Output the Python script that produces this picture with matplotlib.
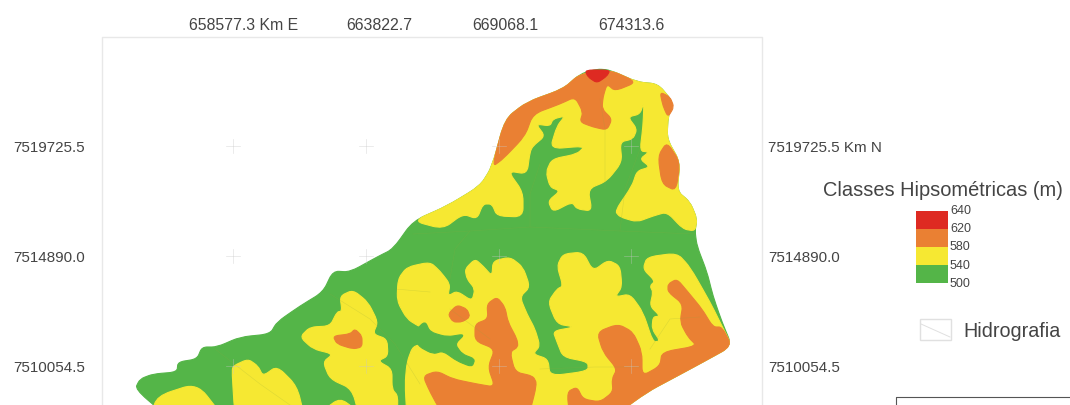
import matplotlib
matplotlib.use('Agg')
import matplotlib.pyplot as plt
from matplotlib.patches import PathPatch, Rectangle
from matplotlib.path import Path

plt.rcParams['font.family'] = ['Liberation Sans', 'DejaVu Sans']

GREEN = '#54b548'
YELLOW = '#f6e832'
ORANGE = '#ea8033'
RED = '#de2a22'

# everything, in image pixels
bacia = [(135, 390), (140, 380), (153, 375), (177, 373), (178, 363), (197, 360), (202, 348), (217, 348),
         (240, 338), (270, 335), (277, 323), (300, 307), (323, 293), (333, 272), (350, 273), (377, 258),
         (393, 250), (413, 222), (447, 207), (480, 187), (492, 168), (505, 120), (527, 103), (563, 90),
         (580, 75), (597, 70), (610, 71), (637, 83), (658, 85), (673, 103), (668, 118), (667, 140),
         (680, 163), (677, 192), (690, 203), (697, 220), (695, 232), (697, 247), (707, 273), (713, 297),
         (722, 323), (732, 347), (703, 363), (677, 377), (647, 393), (610, 420), (170, 420)]

amarelo_norte = [(413, 222), (447, 207), (480, 187), (492, 168), (505, 120), (527, 103), (563, 90), (580, 75),
                 (610, 71), (637, 83), (658, 85), (673, 103), (668, 118), (667, 140), (680, 163), (677, 192),
                 (690, 203), (697, 220), (695, 232), (683, 230), (667, 213), (653, 217), (637, 223), (620, 218),
                 (615, 212), (632, 187), (637, 172), (650, 168), (640, 160), (649, 153), (640, 152), (643, 127),
                 (644, 103), (640, 115), (628, 118), (637, 130), (633, 140), (620, 143), (622, 163), (607, 182),
                 (588, 190), (592, 212), (577, 210), (572, 203), (553, 213), (548, 202), (560, 192), (550, 188),
                 (546, 173), (552, 160), (577, 155), (585, 147), (550, 150), (557, 127), (565, 117), (553, 120),
                 (550, 127), (536, 125), (545, 137), (533, 147), (530, 153), (527, 175), (508, 172), (523, 193),
                 (523, 218), (497, 217), (492, 205), (483, 205), (477, 220), (463, 215), (443, 230)]

amarelo_sul_1 = [(150, 420), (157, 397), (197, 384), (225, 420)]
amarelo_sul_2 = [(232, 373), (233, 367), (248, 360), (258, 367), (263, 377), (277, 367), (297, 387), (305, 420),
                 (235, 420)]
amarelo_sul_3 = [(300, 338), (310, 328), (330, 327), (337, 313), (342, 312), (340, 297), (353, 291), (368, 303),
                 (378, 323), (373, 335), (387, 340), (388, 357), (378, 362), (392, 370), (392, 390), (398, 397),
                 (397, 420), (360, 420), (352, 390), (330, 380), (323, 363), (333, 355), (313, 350)]
amarelo_sul_4 = [(322, 412), (340, 399), (358, 412)]
amarelo_sul_5 = [(472, 302), (475, 290), (467, 280), (465, 270), (475, 260), (483, 267), (492, 277), (493, 262),
                 (510, 258), (523, 268), (530, 288), (520, 298), (527, 315), (535, 330), (540, 347), (533, 355),
                 (548, 360), (550, 377), (588, 372), (588, 363), (563, 358), (557, 343), (553, 332), (575, 328),
                 (557, 325), (548, 303), (557, 290), (563, 287), (557, 267), (563, 255), (583, 253), (593, 272),
                 (608, 261), (620, 267), (622, 288), (615, 298), (630, 295), (643, 313), (653, 343), (660, 342),
                 (652, 330), (653, 318), (660, 317), (650, 307), (653, 293), (650, 287), (655, 282), (643, 270),
                 (647, 258), (677, 254), (690, 268), (710, 303), (722, 327), (732, 347), (703, 363), (677, 377),
                 (647, 393), (610, 420), (407, 420), (405, 385), (407, 363), (413, 347), (427, 345), (437, 355),
                 (440, 350), (433, 332), (420, 328), (407, 320), (397, 302), (398, 280), (407, 268), (430, 263),
                 (440, 272), (450, 285), (448, 297), (457, 292)]
verde_enclave = [(414, 333), (425, 322), (430, 333), (447, 338), (465, 335), (455, 345), (462, 355), (475, 360),
                 (472, 368), (457, 362), (443, 352), (433, 355), (418, 347)]

laranja_norte = [(492, 168), (505, 120), (527, 103), (563, 90), (580, 75), (610, 71), (637, 83), (615, 92),
                 (607, 85), (603, 98), (602, 110), (612, 120), (607, 131), (593, 128), (580, 123), (583, 113),
                 (575, 98), (560, 105), (533, 115), (525, 137), (503, 160)]
laranja_leste_1 = [(660, 93), (670, 98), (674, 108), (668, 118), (663, 107)]
laranja_leste_2 = [(667, 143), (680, 163), (676, 192), (662, 185), (658, 157)]
laranja_sul_1 = [(448, 315), (457, 306), (467, 310), (470, 318), (462, 323), (453, 323)]
laranja_sul_2 = [(487, 305), (497, 298), (505, 308), (508, 323), (517, 340), (518, 348), (510, 353), (515, 373),
                 (533, 377), (537, 385), (528, 420), (445, 420), (430, 393), (423, 377), (437, 372), (453, 380),
                 (477, 385), (495, 388), (488, 368), (495, 350), (475, 342), (475, 325), (488, 320)]
laranja_sul_3 = [(597, 333), (618, 325), (633, 333), (642, 353), (642, 377), (660, 367), (662, 353), (697, 347),
                 (688, 338), (680, 323), (683, 305), (668, 293), (668, 285), (677, 280), (688, 293), (702, 310),
                 (713, 328), (722, 328), (732, 347), (703, 363), (677, 377), (647, 393), (610, 420), (570, 420),
                 (567, 393), (577, 388), (583, 400), (600, 403), (613, 393), (612, 380), (617, 370), (603, 353)]
laranja_morro = [(333, 337), (350, 335), (355, 330), (362, 337), (362, 348), (353, 350), (337, 345)]
vermelho = [(585, 71), (610, 71), (607, 77), (597, 84), (588, 78)]

rios = [[(413, 235), (470, 232), (530, 228), (620, 232), (695, 235)],
        [(530, 228), (530, 195), (540, 165)],
        [(620, 232), (625, 190), (640, 150)],
        [(470, 232), (455, 250), (450, 280)],
        [(330, 295), (370, 320), (395, 345), (420, 385)],
        [(215, 350), (260, 385), (290, 406)],
        [(605, 190), (605, 130), (600, 100)],
        [(650, 350), (670, 320), (700, 318)],
        [(540, 370), (595, 368), (640, 368)],
        [(490, 340), (450, 310)],
        [(395, 290), (430, 293)]]

x_ticks = [233, 366, 499, 631]
y_ticks = [147, 257, 367]
x_labels = ['658577.3 Km E', '663822.7', '669068.1', '674313.6']
x_label_pos = [244, 379, 505, 631]
y_labels = ['7519725.5', '7514890.0', '7510054.5']
y_labels_dir = ['7519725.5 Km N', '7514890.0', '7510054.5']
classes = ['640', '620', '580', '540', '500']
class_colors = [RED, ORANGE, YELLOW, GREEN]

CORTE = 0.35  # quanto de cada lado entra na curva do canto


def mancha(pts, cor):
    """poligono fechado com cantos arredondados, curvas de Path"""
    n = len(pts)
    def entre(a, b, t):
        return (a[0] + (b[0] - a[0]) * t, a[1] + (b[1] - a[1]) * t)
    verts = [entre(pts[0], pts[-1], CORTE)]
    codes = [Path.MOVETO]
    for i in range(n):
        p = pts[i]
        prox = pts[(i + 1) % n]
        ant = pts[i - 1]
        if i > 0:
            verts.append(entre(p, ant, CORTE))
            codes.append(Path.LINETO)
        verts += [p, entre(p, prox, CORTE)]
        codes += [Path.CURVE3, Path.CURVE3]
    verts.append(verts[0])
    codes.append(Path.LINETO)
    return PathPatch(Path(verts, codes), facecolor=cor, edgecolor=cor, lw=0.8)


fig = plt.figure(figsize=(10.7, 4.06), dpi=100)
ax = fig.add_axes([0, 0, 1, 1])
ax.set_xlim(0, 1070)
ax.set_ylim(406, 0)
ax.axis('off')

ax.plot([102, 102, 762, 762], [406, 38, 38, 406], color='#e8e8e8', lw=1)

for pol, cor in [(bacia, GREEN), (amarelo_norte, YELLOW), (amarelo_sul_1, YELLOW), (amarelo_sul_2, YELLOW),
                 (amarelo_sul_3, YELLOW), (amarelo_sul_4, YELLOW), (amarelo_sul_5, YELLOW), (verde_enclave, GREEN),
                 (laranja_norte, ORANGE), (laranja_leste_1, ORANGE), (laranja_leste_2, ORANGE),
                 (laranja_sul_1, ORANGE), (laranja_sul_2, ORANGE), (laranja_sul_3, ORANGE), (laranja_morro, ORANGE),
                 (vermelho, RED)]:
    ax.add_patch(mancha(pol, cor))

for rio in rios:
    ax.plot([p[0] for p in rio], [p[1] for p in rio], color='#8fa83f', lw=0.4, alpha=0.25)

# cruzes da grade
for x in x_ticks:
    for y in y_ticks:
        ax.plot([x - 7, x + 7], [y, y], color='#c8c8c8', lw=0.5, alpha=0.5)
        ax.plot([x, x], [y - 7, y + 7], color='#c8c8c8', lw=0.5, alpha=0.5)

for x, lab in zip(x_label_pos, x_labels):
    ax.text(x, 26, lab, ha='center', va='center', fontsize=11.4, color='#444444')
for y, lab, lab2 in zip(y_ticks, y_labels, y_labels_dir):
    ax.text(85, y + 1, lab, ha='right', va='center', fontsize=10.9, color='#444444')
    ax.text(768, y + 1, lab2, ha='left', va='center', fontsize=10.9, color='#444444')

ax.text(1063, 191, 'Classes Hipsométricas (m)', ha='right', va='center', fontsize=14.4, color='#444444')
for i, cor in enumerate(class_colors):
    ax.add_patch(Rectangle((916, 212 + 18 * i), 32, 18, facecolor=cor, edgecolor='none'))
for i, lab in enumerate(classes):
    ax.text(950, 211 + 18.2 * i, lab, ha='left', va='center', fontsize=9, color='#444444')

ax.add_patch(Rectangle((920, 320), 31, 21, facecolor='white', edgecolor='#e0e0e0', lw=1))
ax.plot([921, 950], [325, 338], color='#e0e0e0', lw=0.7)
ax.text(963, 332, 'Hidrografia', ha='left', va='center', fontsize=14.2, color='#444444')

ax.plot([896, 896, 1070], [406, 398, 398], color='#555555', lw=0.8)

fig.savefig('out.png', dpi=100)
